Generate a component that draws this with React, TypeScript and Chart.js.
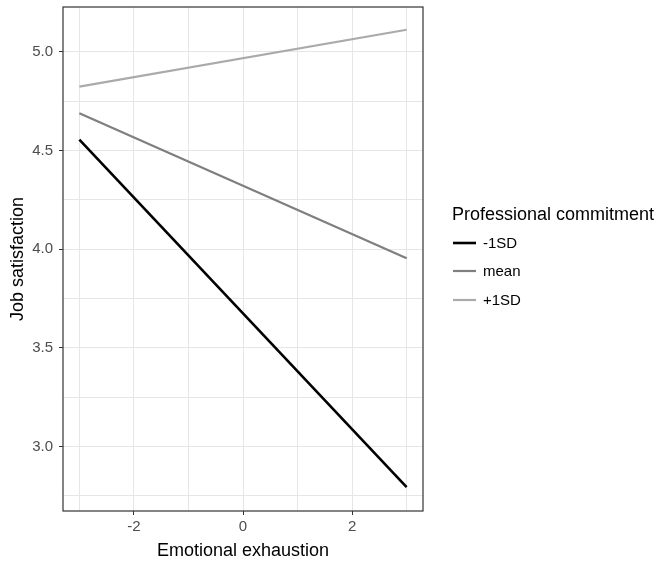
import React, { useEffect, useRef } from "react";
import { Chart, registerables } from "chart.js";

Chart.register(...registerables);

const xValues = [-3, 3];
const minusSD = [4.554, 2.795];
const meanSD = [4.688, 3.954];
const plusSD = [4.823, 5.111];

const seriesLabels = ["-1SD", "mean", "+1SD"];
const seriesColors = ["#000000", "#7f7f7f", "#aaaaaa"];
const seriesWidths = [2.6, 2.2, 2.2];

const xTicks = [-3, -2, -1, 0, 1, 2, 3];
const xMajor = [-2, 0, 2];
const yTicks = [2.75, 3.0, 3.25, 3.5, 3.75, 4.0, 4.25, 4.5, 4.75, 5.0];
const yMajor = [3.0, 3.5, 4.0, 4.5, 5.0];

const legendTitle = "Professional commitment";
const xTitle = "Emotional exhaustion";
const yTitle = "Job satisfaction";

const FONT = "'Liberation Sans', Arial, sans-serif";

const panelPlugin = {
  id: "panel",
  afterDraw(chart: any) {
    const { ctx, chartArea } = chart;
    ctx.save();
    ctx.strokeStyle = "#333333";
    ctx.lineWidth = 1.2;
    ctx.strokeRect(chartArea.left, chartArea.top, chartArea.right - chartArea.left, chartArea.bottom - chartArea.top);
    // legend
    ctx.fillStyle = "#000000";
    ctx.textBaseline = "middle";
    ctx.textAlign = "left";
    ctx.font = "18px " + FONT;
    ctx.fillText(legendTitle, 452, 215);
    const ys = [243, 271, 300];
    chart.data.datasets.forEach((ds: any, i: number) => {
      ctx.strokeStyle = ds.borderColor;
      ctx.lineWidth = ds.borderWidth;
      ctx.beginPath();
      ctx.moveTo(453, ys[i]);
      ctx.lineTo(476, ys[i]);
      ctx.stroke();
      ctx.fillStyle = "#000000";
      ctx.font = "15px " + FONT;
      ctx.fillText(ds.label, 483, ys[i] + 1);
    });
    ctx.restore();
  },
};

export default function App() {
  const ref = useRef<HTMLCanvasElement | null>(null);
  useEffect(() => {
    if (!ref.current) return;
    const series = [minusSD, meanSD, plusSD];
    const chart = new Chart(ref.current, {
      type: "line",
      data: {
        datasets: series.map((vals, i) => ({
          label: seriesLabels[i],
          data: xValues.map((x, j) => ({ x, y: vals[j] })),
          borderColor: seriesColors[i],
          borderWidth: seriesWidths[i],
          pointRadius: 0,
          fill: false,
          tension: 0,
        })),
      },
      options: {
        animation: false,
        responsive: false,
        maintainAspectRatio: false,
        layout: { padding: { left: 0, right: 246, top: 7, bottom: 0 } },
        plugins: { legend: { display: false }, tooltip: { enabled: false } },
        scales: {
          x: {
            type: "linear",
            min: -3.3,
            max: 3.3,
            afterBuildTicks: (s: any) => {
              s.ticks = xTicks.map((v) => ({ value: v }));
            },
            afterFit: (s: any) => {
              s.height = 55;
              s.paddingLeft = 0;
              s.paddingRight = 0;
            },
            ticks: {
              autoSkip: false,
              maxRotation: 0,
              padding: 3,
              color: "#4d4d4d",
              font: { family: FONT, size: 15 },
              callback: (v: any) => (xMajor.includes(Number(v)) ? String(v) : ""),
            },
            grid: {
              color: "#e6e6e6",
              lineWidth: 1,
              tickLength: 4,
              tickColor: (c: any) => (c.tick && xMajor.includes(c.tick.value) ? "#333333" : "rgba(0,0,0,0)"),
            },
            border: { display: false },
            title: {
              display: true,
              text: xTitle,
              color: "#000000",
              font: { family: FONT, size: 18 },
              padding: { top: 0, bottom: 4 },
            },
          },
          y: {
            type: "linear",
            min: 2.674,
            max: 5.226,
            afterBuildTicks: (s: any) => {
              s.ticks = yTicks.map((v) => ({ value: v }));
            },
            afterFit: (s: any) => {
              s.width = 63;
              s.paddingTop = 0;
              s.paddingBottom = 0;
            },
            ticks: {
              autoSkip: false,
              padding: 6,
              color: "#4d4d4d",
              font: { family: FONT, size: 15 },
              callback: (v: any) => (yMajor.includes(Number(v)) ? Number(v).toFixed(1) : ""),
            },
            grid: {
              color: "#e6e6e6",
              lineWidth: 1,
              tickLength: 4,
              tickColor: (c: any) => (c.tick && yMajor.includes(c.tick.value) ? "#333333" : "rgba(0,0,0,0)"),
            },
            border: { display: false },
            title: {
              display: true,
              text: yTitle,
              color: "#000000",
              font: { family: FONT, size: 18 },
              padding: { top: 7, bottom: 0 },
            },
          },
        },
      },
      plugins: [panelPlugin],
    } as any);
    return () => chart.destroy();
  }, []);
  return (
    <div style={{ position: "absolute", left: 0, top: 0, width: 669, height: 566, background: "#ffffff" }}>
      <canvas ref={ref} width={669} height={566} style={{ width: 669, height: 566, display: "block" }} />
    </div>
  );
}
